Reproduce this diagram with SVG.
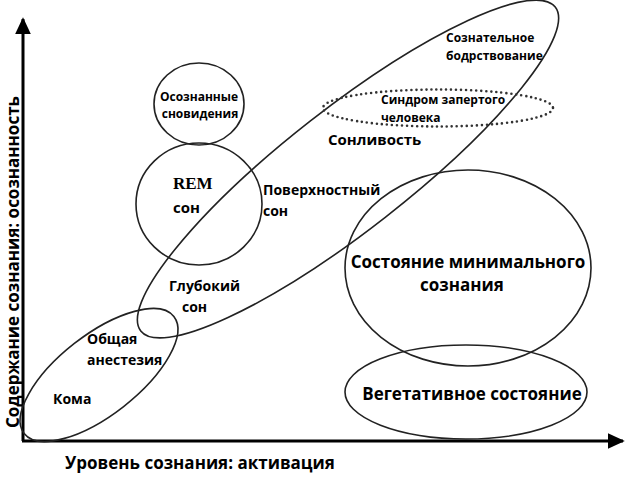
<svg xmlns="http://www.w3.org/2000/svg" width="635" height="477" viewBox="0 0 635 477">
<style>
.sh{fill:none;stroke:#222;stroke-width:1.6}
.dot{fill:none;stroke:#333;stroke-width:2.6;stroke-dasharray:0 5;stroke-linecap:round}
text{font-family:"Open Sans","Noto Sans","DejaVu Sans",sans-serif;font-weight:bold;fill:#000}
.s12{font-size:12px}.s14{font-size:14px}.s15{font-size:15px}.s17{font-size:17px}
.ax{stroke:#000;stroke-width:3;fill:none}
</style>
<defs>
<marker id="ah" markerWidth="6" markerHeight="6" refX="5" refY="3" orient="auto" markerUnits="strokeWidth">
<path d="M0,0.4 L5.6,3 L0,5.6 Z" fill="#000"/>
</marker>
</defs>
<rect width="635" height="477" fill="#fff"/>
<g id="connectors">
<line class="ax" x1="23" y1="441" x2="23" y2="19" marker-end="url(#ah)"/>
<line class="ax" x1="22" y1="441" x2="623" y2="441" marker-end="url(#ah)"/>
</g>
<g id="axis-x"><text class="s17" x="65" y="469">Уровень сознания: активация</text></g>
<g id="axis-y"><text class="s17" transform="translate(19,262) rotate(-90)" text-anchor="middle">Содержание сознания: осознанность</text></g>
<g id="sleep-wake">
<ellipse class="sh" cx="348" cy="169" rx="263" ry="61" transform="rotate(-38 348 169)"/>
<text class="s12" x="446" y="42">Сознательное</text>
<text class="s12" x="446" y="60">бодрствование</text>
</g>
<g id="drowsiness"><text class="s15" x="328" y="145">Сонливость</text></g>
<g id="light-sleep"><text class="s14" x="263" y="195">Поверхностный</text><text class="s14" x="263" y="216">сон</text></g>
<g id="deep-sleep"><text class="s14" x="169" y="291">Глубокий</text><text class="s14" x="182" y="312">сон</text></g>
<g id="lucid">
<ellipse class="sh" cx="199" cy="104" rx="45" ry="41"/>
<text class="s12" x="199" y="101" text-anchor="middle">Осознанные</text>
<text class="s12" x="200" y="118" text-anchor="middle">сновидения</text>
</g>
<g id="rem">
<ellipse class="sh" cx="199" cy="204" rx="63" ry="61"/>
<text x="173" y="189" style="font-family:'Liberation Serif','Times New Roman',serif;font-size:17px">REM</text>
<text class="s15" x="173" y="213">сон</text>
</g>
<g id="locked-in">
<ellipse class="dot" cx="438" cy="108" rx="115" ry="18.5"/>
<text class="s12" x="381" y="104">Синдром запертого</text>
<text class="s12" x="381" y="122">человека</text>
</g>
<g id="mcs">
<ellipse class="sh" cx="468" cy="268" rx="123" ry="98"/>
<text class="s17" x="468" y="268" text-anchor="middle">Состояние минимального</text>
<text class="s17" x="462" y="291" text-anchor="middle">сознания</text>
</g>
<g id="vegetative">
<ellipse class="sh" cx="466" cy="392" rx="121" ry="47"/>
<text class="s17" x="472" y="400" text-anchor="middle">Вегетативное состояние</text>
</g>
<g id="coma-anesthesia">
<ellipse class="sh" cx="99" cy="375" rx="95" ry="40" transform="rotate(-38 99 375)"/>
<text class="s14" x="87" y="344">Общая</text>
<text class="s14" x="87" y="365">анестезия</text>
<text class="s14" x="53" y="404">Кома</text>
</g>
</svg>
